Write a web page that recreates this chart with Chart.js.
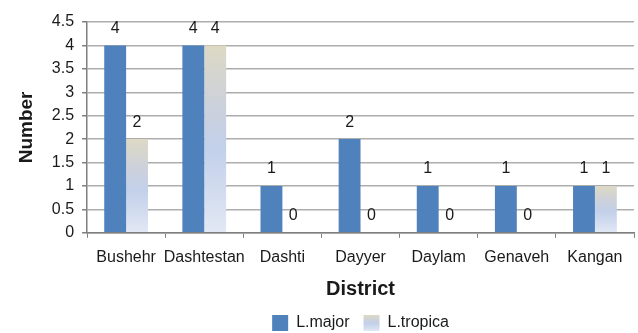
<!DOCTYPE html>
<html>
<head>
<meta charset="utf-8">
<script src="https://cdn.jsdelivr.net/npm/chart.js@4.4.1/dist/chart.umd.min.js"></script>
<style>
  html, body { margin: 0; padding: 0; background: #ffffff; }
  #wrap { width: 638px; height: 333px; position: relative; }
</style>
</head>
<body>
<div id="wrap"><canvas id="c" width="638" height="333"></canvas></div>
<script>
// Cases per district
const districts = ['Bushehr', 'Dashtestan', 'Dashti', 'Dayyer', 'Daylam', 'Genaveh', 'Kangan'];
const majorCounts = [4, 4, 1, 2, 1, 1, 1];
const tropicaCounts = [2, 4, 0, 0, 0, 0, 1];
const seriesNames = ['L.major', 'L.tropica'];
const yTicks = [0, 0.5, 1, 1.5, 2, 2.5, 3, 3.5, 4, 4.5];

const FONT = "'Liberation Sans', Arial, sans-serif";
const TEXT = '#1a1a1a';
const BLUE = '#4f81bd';

// Vertical fade used for the L.tropica bars: tan at the top, pale blue lower down
function fadeGradient(ctx, top, bottom) {
  const g = ctx.createLinearGradient(0, top, 0, bottom);
  g.addColorStop(0, '#ddd9c4');
  g.addColorStop(0.3, '#cdd1da');
  g.addColorStop(0.55, '#c2d0ea');
  g.addColorStop(1, '#e2e8f4');
  return g;
}

function tropicaFill(context) {
  const chart = context.chart;
  const y = chart.scales && chart.scales.y;
  if (!y || context.type !== 'data') return '#c6d3ea';
  const top = y.getPixelForValue(context.parsed ? context.parsed.y : context.raw);
  const bottom = y.getPixelForValue(0);
  if (!isFinite(top) || !isFinite(bottom) || bottom - top < 1) return '#c6d3ea';
  return fadeGradient(chart.ctx, top, bottom);
}

// Numbers written above each bar
const valueLabels = {
  id: 'valueLabels',
  afterDatasetsDraw(chart) {
    const ctx = chart.ctx;
    ctx.save();
    ctx.font = '16px ' + FONT;
    ctx.fillStyle = TEXT;
    ctx.textAlign = 'center';
    ctx.textBaseline = 'middle';
    chart.data.datasets.forEach((ds, di) => {
      const meta = chart.getDatasetMeta(di);
      meta.data.forEach((bar, i) => {
        ctx.fillText(String(ds.data[i]), bar.x, bar.y - 17);
      });
    });
    ctx.restore();
  }
};

// Centre the legend under the plot area rather than the whole canvas
const legendUnderPlot = {
  id: 'legendUnderPlot',
  afterUpdate(chart) {
    const lg = chart.legend;
    if (!lg || !chart.chartArea) return;
    const plotMid = (chart.chartArea.left + chart.chartArea.right) / 2;
    const boxMid = (lg.left + lg.right) / 2;
    const dx = plotMid - boxMid;
    lg.left += dx;
    lg.right += dx;
    (lg.legendHitBoxes || []).forEach(h => { h.left += dx; });
  }
};

// Legend swatch for L.tropica gets the same fade as its bars
const legendFade = {
  id: 'legendFade',
  afterDraw(chart) {
    const lg = chart.legend;
    if (!lg || !lg.legendHitBoxes || lg.legendHitBoxes.length < 2) return;
    const hb = lg.legendHitBoxes[1];
    const bw = lg.options.labels.boxWidth;
    const bh = lg.options.labels.boxHeight;
    const top = hb.top + (hb.height - bh) / 2;
    const ctx = chart.ctx;
    ctx.save();
    ctx.fillStyle = '#ffffff';
    ctx.fillRect(hb.left - 1, top - 1, bw + 2, bh + 2);
    ctx.fillStyle = fadeGradient(ctx, top, top + bh);
    ctx.fillRect(hb.left, top, bw, bh);
    ctx.restore();
  }
};

new Chart(document.getElementById('c'), {
  type: 'bar',
  data: {
    labels: districts,
    datasets: [
      { label: seriesNames[0], data: majorCounts, backgroundColor: BLUE, borderWidth: 0 },
      { label: seriesNames[1], data: tropicaCounts, backgroundColor: tropicaFill, borderWidth: 0 }
    ]
  },
  options: {
    responsive: false,
    animation: false,
    devicePixelRatio: 1,
    layout: { padding: { left: 15, right: 4, top: 22, bottom: -8 } },
    datasets: { bar: { categoryPercentage: 0.56, barPercentage: 1.0 } },
    plugins: {
      tooltip: { enabled: false },
      legend: {
        position: 'bottom',
        labels: {
          font: { family: FONT, size: 16 },
          color: TEXT,
          boxWidth: 16,
          boxHeight: 16,
          padding: 14
        }
      }
    },
    scales: {
      x: {
        grid: {
          offset: true,
          drawOnChartArea: false,
          drawTicks: true,
          tickLength: 5,
          color: '#7f7f7f'
        },
        border: { color: '#7f7f7f', width: 1.5 },
        ticks: { font: { family: FONT, size: 16 }, color: TEXT, padding: 10, maxRotation: 0, autoSkip: false },
        title: {
          display: true,
          text: 'District',
          font: { family: FONT, size: 20, weight: 'bold' },
          color: TEXT,
          padding: { top: 0, bottom: 0 }
        }
      },
      y: {
        min: 0,
        max: 4.5,
        afterBuildTicks(scale) { scale.ticks = yTicks.map(v => ({ value: v })); },
        grid: {
          color: '#adadad',
          lineWidth: 1.5,
          drawTicks: true,
          tickLength: 5,
          tickColor: '#7f7f7f'
        },
        border: { color: '#7f7f7f', width: 1.5 },
        ticks: {
          font: { family: FONT, size: 16 },
          color: TEXT,
          padding: 8,
          callback: (v) => String(v)
        },
        title: {
          display: true,
          text: 'Number',
          font: { family: FONT, size: 19, weight: 'bold' },
          color: TEXT,
          padding: { top: 0, bottom: 6 }
        }
      }
    }
  },
  plugins: [valueLabels, legendUnderPlot, legendFade]
});
</script>
</body>
</html>
